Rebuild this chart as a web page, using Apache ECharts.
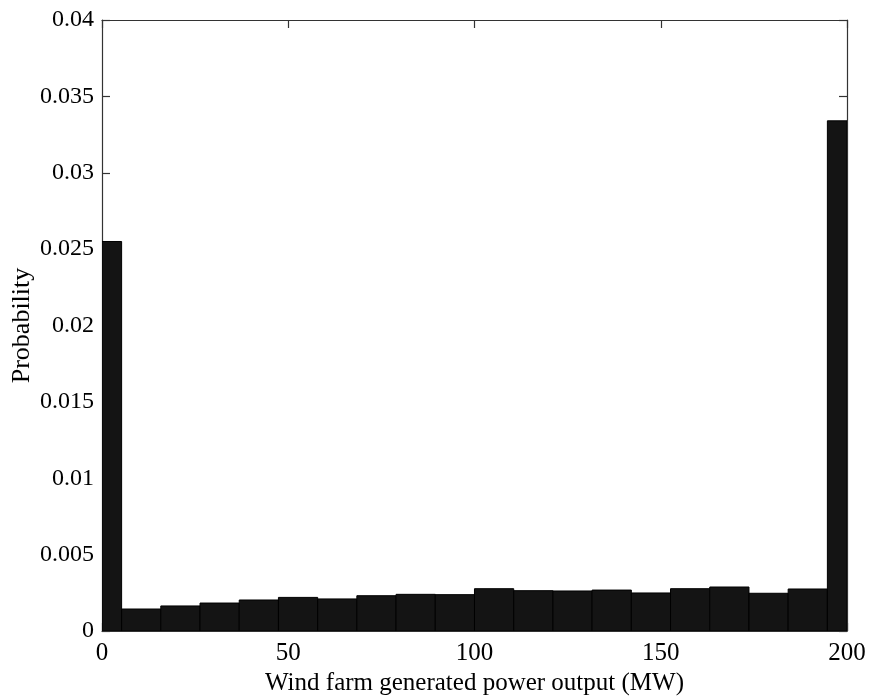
<!DOCTYPE html>
<html>
<head>
<meta charset="utf-8">
<style>
  html, body { margin: 0; padding: 0; background: #fff; }
  #chart { width: 869px; height: 698px; }
</style>
<script src="https://cdn.jsdelivr.net/npm/echarts@6/dist/echarts.min.js"></script>
</head>
<body>
<div id="chart"></div>
<script>
// Histogram bin centres (MW) and the probability of each bin
const binCenters = [0, 10.53, 21.05, 31.58, 42.11, 52.63, 63.16, 73.68, 84.21, 94.74,
                    105.26, 115.79, 126.32, 136.84, 147.37, 157.89, 168.42, 178.95, 189.47, 200];
const probability = [0.0255, 0.00144, 0.00164, 0.00183, 0.00203, 0.0022, 0.0021, 0.00231, 0.0024, 0.00238,
                     0.00277, 0.00264, 0.00262, 0.00268, 0.00249, 0.00277, 0.00288, 0.00247, 0.00275, 0.0334];
const xTicks = [0, 50, 100, 150, 200];
const yTicks = [0, 0.005, 0.01, 0.015, 0.02, 0.025, 0.03, 0.035, 0.04];

const binWidth = binCenters[1] - binCenters[0];
const font = 'Liberation Serif';
const axisColor = '#333';

const chart = echarts.init(document.getElementById('chart'), null, { renderer: 'canvas' });

const baseX = {
  type: 'value', min: xTicks[0], max: xTicks[xTicks.length - 1], interval: xTicks[1] - xTicks[0],
  splitLine: { show: false },
  axisLine: { show: true, onZero: false, lineStyle: { color: axisColor, width: 1.2 } },
  axisTick: { show: true, inside: true, length: 8, lineStyle: { color: axisColor, width: 1.2 } }
};
const baseY = {
  type: 'value', min: yTicks[0], max: yTicks[yTicks.length - 1], interval: yTicks[1] - yTicks[0],
  splitLine: { show: false },
  axisLine: { show: true, onZero: false, lineStyle: { color: axisColor, width: 1.2 } },
  axisTick: { show: true, inside: true, length: 8, lineStyle: { color: axisColor, width: 1.2 } }
};

chart.setOption({
  animation: false,
  backgroundColor: '#fff',
  grid: { left: 102, right: 22, top: 20, bottom: 67, containLabel: false, outerBoundsMode: 'none' },
  xAxis: [
    Object.assign({}, baseX, {
      position: 'bottom',
      name: 'Wind farm generated power output (MW)',
      nameLocation: 'middle', nameGap: 40, nameMoveOverlap: false,
      nameTextStyle: { fontFamily: font, fontSize: 25, color: '#000' },
      axisLabel: { fontFamily: font, fontSize: 25, color: '#000', margin: 10, formatter: v => String(v) }
    }),
    Object.assign({}, baseX, { position: 'top', axisLabel: { show: false } })
  ],
  yAxis: [
    Object.assign({}, baseY, {
      position: 'left',
      name: 'Probability',
      nameLocation: 'middle', nameGap: 67, nameMoveOverlap: false,
      nameTextStyle: { fontFamily: font, fontSize: 26, color: '#000' },
      axisLabel: { fontFamily: font, fontSize: 24, color: '#000', margin: 8,
                   formatter: v => String(parseFloat(v.toFixed(4))) }
    }),
    Object.assign({}, baseY, { position: 'right', axisLabel: { show: false } })
  ],
  series: [{
    type: 'custom',
    xAxisIndex: 0, yAxisIndex: 0,
    clip: true,
    data: binCenters.map((c, i) => [c, probability[i]]),
    renderItem: function (params, api) {
      const c = api.value(0);
      const p0 = api.coord([c - binWidth / 2, api.value(1)]);
      const p1 = api.coord([c + binWidth / 2, 0]);
      const rect = echarts.graphic.clipRectByRect(
        { x: p0[0], y: p0[1], width: p1[0] - p0[0], height: p1[1] - p0[1] },
        { x: params.coordSys.x, y: params.coordSys.y, width: params.coordSys.width, height: params.coordSys.height }
      );
      return rect && {
        type: 'rect',
        shape: rect,
        style: { fill: '#141414', stroke: '#000', lineWidth: 1 }
      };
    }
  }]
});
</script>
</body>
</html>
